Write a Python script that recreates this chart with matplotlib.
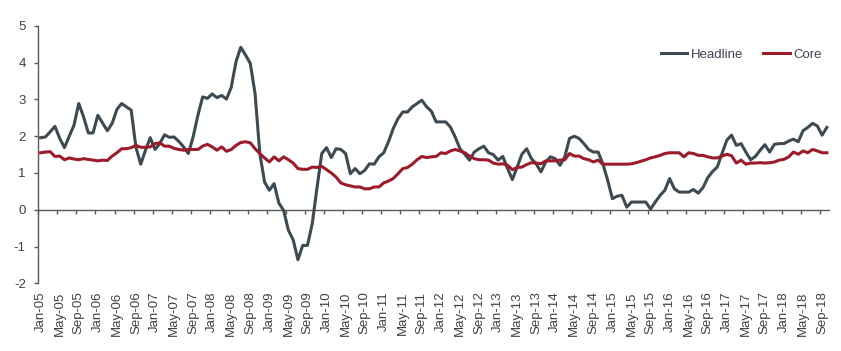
import matplotlib.pyplot as plt
import numpy as np
import pandas as pd

# monthly data, Jan-05 .. Oct-18
months = pd.date_range("2005-01-01", periods=166, freq="MS")
month_labels = [m.strftime("%b-%y") for m in months]

headline = [
    1.96, 1.98, 2.12, 2.27, 1.94, 1.69, 2.00, 2.30, 2.89, 2.53,
    2.09, 2.09, 2.57, 2.36, 2.15, 2.35, 2.73, 2.89, 2.80, 2.71,
    1.70, 1.24, 1.62, 1.96, 1.64, 1.80, 2.04, 1.97, 1.98, 1.86,
    1.71, 1.53, 1.98, 2.57, 3.07, 3.03, 3.15, 3.05, 3.11, 3.01,
    3.33, 4.03, 4.42, 4.21, 3.98, 3.16, 1.53, 0.75, 0.53, 0.71,
    0.18, -0.02, -0.56, -0.82, -1.36, -0.97, -0.97, -0.38, 0.60, 1.53,
    1.69, 1.42, 1.66, 1.64, 1.53, 0.98, 1.12, 0.98, 1.07, 1.25,
    1.24, 1.44, 1.55, 1.85, 2.21, 2.48, 2.66, 2.66, 2.80, 2.89,
    2.98, 2.80, 2.68, 2.39, 2.39, 2.39, 2.25, 1.98, 1.66, 1.51,
    1.35, 1.57, 1.66, 1.73, 1.55, 1.50, 1.35, 1.45, 1.12, 0.82,
    1.16, 1.51, 1.66, 1.39, 1.25, 1.03, 1.30, 1.44, 1.39, 1.21,
    1.44, 1.94, 2.00, 1.94, 1.80, 1.64, 1.57, 1.57, 1.25, 0.80,
    0.30, 0.37, 0.39, 0.07, 0.21, 0.21, 0.21, 0.21, 0.02, 0.21,
    0.39, 0.53, 0.85, 0.57, 0.48, 0.48, 0.48, 0.55, 0.45, 0.60,
    0.87, 1.04, 1.16, 1.53, 1.89, 2.03, 1.75, 1.80, 1.57, 1.36,
    1.45, 1.62, 1.77, 1.57, 1.78, 1.80, 1.80, 1.87, 1.92, 1.85,
    2.15, 2.24, 2.35, 2.28, 2.03, 2.24,
]

core = [
    1.55, 1.57, 1.58, 1.45, 1.46, 1.36, 1.41, 1.38, 1.36, 1.39,
    1.37, 1.35, 1.33, 1.35, 1.34, 1.46, 1.55, 1.66, 1.66, 1.69,
    1.75, 1.70, 1.70, 1.71, 1.80, 1.82, 1.73, 1.73, 1.67, 1.64,
    1.62, 1.64, 1.64, 1.64, 1.73, 1.78, 1.71, 1.62, 1.71, 1.59,
    1.64, 1.75, 1.83, 1.85, 1.82, 1.66, 1.53, 1.41, 1.30, 1.44,
    1.33, 1.44, 1.36, 1.27, 1.12, 1.10, 1.10, 1.16, 1.15, 1.18,
    1.09, 1.00, 0.89, 0.73, 0.68, 0.65, 0.62, 0.62, 0.57, 0.57,
    0.62, 0.62, 0.73, 0.78, 0.85, 0.98, 1.12, 1.15, 1.24, 1.36,
    1.45, 1.42, 1.44, 1.45, 1.55, 1.53, 1.60, 1.64, 1.60, 1.55,
    1.46, 1.39, 1.36, 1.36, 1.35, 1.27, 1.24, 1.25, 1.21, 1.09,
    1.15, 1.16, 1.23, 1.28, 1.27, 1.25, 1.33, 1.33, 1.33, 1.35,
    1.36, 1.53, 1.46, 1.46, 1.39, 1.36, 1.30, 1.35, 1.24, 1.24,
    1.24, 1.24, 1.24, 1.24, 1.25, 1.28, 1.32, 1.36, 1.41, 1.44,
    1.48, 1.53, 1.55, 1.55, 1.55, 1.44, 1.55, 1.53, 1.48, 1.48,
    1.44, 1.41, 1.41, 1.46, 1.51, 1.47, 1.27, 1.35, 1.24, 1.27,
    1.27, 1.28, 1.27, 1.28, 1.30, 1.35, 1.37, 1.44, 1.57, 1.51,
    1.60, 1.55, 1.64, 1.60, 1.55, 1.55,
]

plt.rcParams["font.family"] = ["Liberation Sans", "DejaVu Sans"]
plt.rcParams["axes.unicode_minus"] = False
axis_color = "#595959"
text_color = "#404040"

x = np.arange(len(months))

fig, ax = plt.subplots(figsize=(8.41, 3.51), dpi=100)
fig.subplots_adjust(left=0.0455, right=0.986, top=0.926, bottom=0.193)

ax.plot(x, headline, color="#3e4a51", linewidth=2.2, label="Headline", solid_joinstyle="round")
ax.plot(x, core, color="#9b1b2b", linewidth=2.2, label="Core", solid_joinstyle="round")

ax.set_xlim(-0.5, len(months) - 0.5)
ax.set_ylim(-2, 5)
ax.set_yticks(range(-2, 6))

# category labels at the bottom, every 4 months
ax.set_xticks(x[::4])
ax.set_xticklabels(month_labels[::4], rotation=90)
ax.tick_params(axis="x", length=0, pad=6, labelsize=9.5, labelcolor=text_color)
ax.tick_params(axis="y", length=3, width=1, pad=6, labelsize=9.5, labelcolor=text_color, color=axis_color)

for side in ["top", "right", "bottom"]:
    ax.spines[side].set_visible(False)
ax.spines["left"].set_color(axis_color)
ax.spines["left"].set_linewidth(1)

# horizontal axis line at zero with tick marks at category boundaries
zero_axis = ax.secondary_xaxis(0, transform=ax.transData)
zero_axis.set_xticks(np.arange(-0.5, len(months) - 2, 4))
zero_axis.set_xticklabels([])
zero_axis.tick_params(length=3, width=1, color=axis_color, direction="out")
zero_axis.spines["bottom"].set_color(axis_color)
zero_axis.spines["bottom"].set_linewidth(1)

leg = ax.legend(loc="center right", bbox_to_anchor=(834 / 841, 1 - 55 / 351),
                bbox_transform=fig.transFigure, ncol=2, frameon=False,
                fontsize=9.5, handlelength=2.0, handletextpad=0.3, columnspacing=1.5)
for t in leg.get_texts():
    t.set_color("#404055")

fig.savefig("out.png", dpi=100)
